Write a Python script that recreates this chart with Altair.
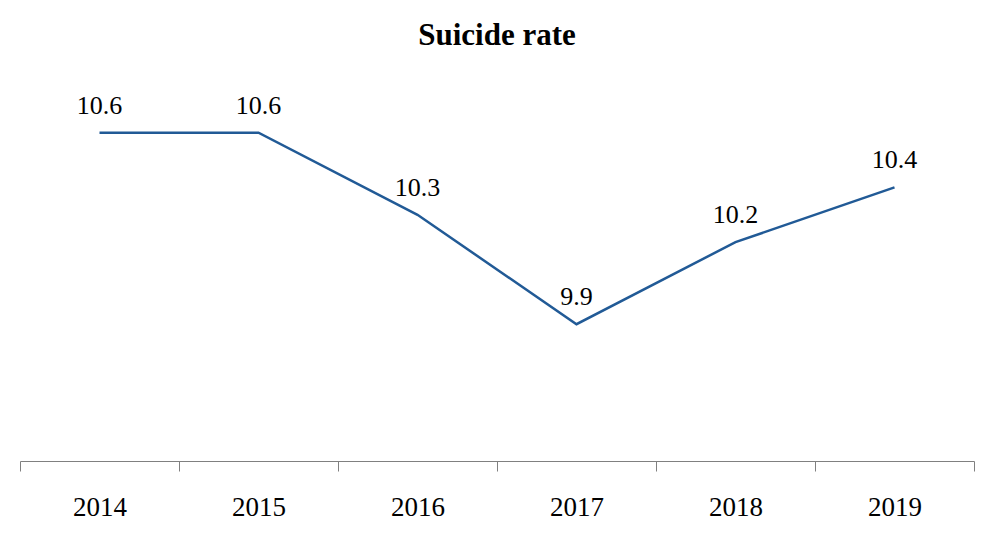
import altair as alt
import pandas as pd

years = ["2014", "2015", "2016", "2017", "2018", "2019"]
rates = [10.6, 10.6, 10.3, 9.9, 10.2, 10.4]

df = pd.DataFrame({"year": years, "rate": rates})

FONT = "Liberation Serif"

x = alt.X("year:O", sort=years, title=None,
          scale=alt.Scale(paddingInner=0, paddingOuter=0),
          axis=alt.Axis(labelAngle=0, tickBand="extent", tickSize=10,
                        domainColor="#808080", tickColor="#808080",
                        labelFont=FONT, labelFontSize=27, labelColor="#000000",
                        labelPadding=23, grid=False))
y = alt.Y("rate:Q", title=None,
          scale=alt.Scale(domain=[9.4, 10.8], zero=False, nice=False),
          axis=None)

line = alt.Chart(df).mark_line(color="#215a96", strokeWidth=2.5).encode(x=x, y=y)
labels = alt.Chart(df).mark_text(font=FONT, fontSize=26, color="#000000",
                                 baseline="middle", dy=-27).encode(
    x=x, y=y, text=alt.Text("rate:Q", format=".1f"))

chart = (line + labels).properties(
    width=954, height=383,
    title=alt.Title("Suicide rate", font=FONT, fontSize=31, fontWeight="bold",
                    color="#000000", anchor="middle", offset=26),
    autosize=alt.AutoSizeParams(type="none"),
    padding={"left": 12, "top": 70, "right": 12, "bottom": 68},
    background="white",
).configure_view(stroke=None)

chart.save("out.html", embed_options={"renderer": "svg", "actions": False})
